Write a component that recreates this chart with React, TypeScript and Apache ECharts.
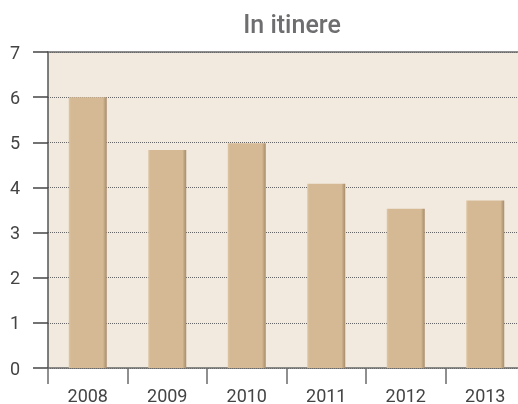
import React, { useEffect, useRef } from "react";
import * as echarts from "echarts";

const categories = ["2008", "2009", "2010", "2011", "2012", "2013"];
const values = [6.0, 4.83, 4.98, 4.08, 3.53, 3.71];
const yTicks = [0, 1, 2, 3, 4, 5, 6, 7];
const title = "In itinere";

export default function App() {
  const ref = useRef<HTMLDivElement>(null);
  useEffect(() => {
    const chart = echarts.init(ref.current!, null, { renderer: "svg" });
    const barColor = new echarts.graphic.LinearGradient(0, 0, 1, 0, [
      { offset: 0, color: "#dcc6a6" },
      { offset: 0.06, color: "#d5b994" },
      { offset: 0.9, color: "#d5b994" },
      { offset: 0.96, color: "#b89d7a" },
      { offset: 1, color: "#a88d6c" },
    ]);
    chart.setOption({
      animation: false,
      title: {
        text: title,
        left: 287,
        textAlign: "center",
        top: 7,
        textStyle: {
          fontFamily: "Roboto",
          fontWeight: 500,
          fontSize: 25,
          color: "#6e6e70",
        },
      },
      grid: {
        left: 48,
        right: 0,
        top: 52,
        bottom: 35,
        show: true,
        backgroundColor: "#f3eadf",
        borderWidth: 0,
      },
      xAxis: [
        {
          type: "category",
          data: categories,
          axisLine: { show: true, lineStyle: { color: "#6a6a6a", width: 1.5 } },
          axisTick: { show: true, length: 16, alignWithLabel: false, lineStyle: { color: "#6a6a6a", width: 1.5 } },
          axisLabel: { margin: 18, fontFamily: "Roboto", fontSize: 18, color: "#444" },
          splitLine: { show: false },
        },
        {
          type: "category",
          position: "top",
          data: categories,
          axisLine: { show: true, lineStyle: { color: "#6a6a6a", width: 1.5 } },
          axisTick: { show: false },
          axisLabel: { show: false },
        },
      ],
      yAxis: {
        type: "value",
        min: 0,
        max: 7,
        interval: 1,
        axisLine: { show: true, lineStyle: { color: "#555", width: 1.5 } },
        axisTick: { show: true, length: 15, lineStyle: { color: "#444", width: 1.5 } },
        axisLabel: {
          margin: 28,
          fontFamily: "Roboto",
          fontSize: 18,
          color: "#444",
          formatter: (v: number) => (yTicks.includes(v) ? String(v) : ""),
        },
        splitLine: { show: true, lineStyle: { type: "dotted", color: "#666", width: 1 } },
      },
      series: [
        {
          type: "bar",
          data: values,
          barWidth: 38,
          itemStyle: { color: barColor },
          z: 3,
        },
      ],
    });
    return () => chart.dispose();
  }, []);
  return (
    <div style={{ position: "fixed", left: 0, top: 0, width: 518, height: 404, overflow: "hidden" }}>
      <div ref={ref} style={{ width: 525, height: 404 }} />
    </div>
  );
}
